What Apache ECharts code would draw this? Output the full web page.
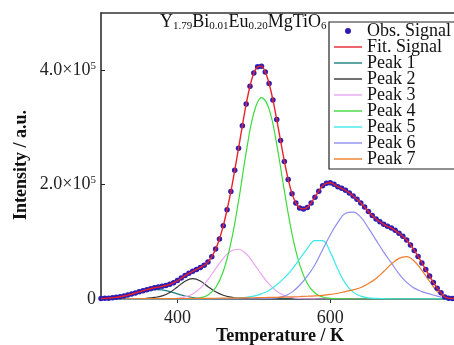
<!DOCTYPE html>
<html>
<head>
<meta charset="utf-8">
<script src="https://cdn.jsdelivr.net/npm/echarts@6/dist/echarts.min.js"></script>
<style>
  html, body { margin: 0; padding: 0; background: #fff; }
  #chart { width: 454px; height: 345px; }
</style>
</head>
<body>
<div id="chart"></div>
<script>
// intensities are in units of 10^5
const obsTemps = [
  300, 305, 310, 315, 320, 325, 330, 335, 340, 345, 350, 355, 360, 365, 370, 375,
  380, 385, 390, 395, 400, 405, 410, 415, 420, 425, 430, 435, 440, 445, 450, 455,
  460, 465, 470, 475, 480, 485, 490, 495, 500, 505, 510, 515, 520, 525, 530, 535,
  540, 545, 550, 555, 560, 565, 570, 575, 580, 585, 590, 595, 600, 605, 610, 615,
  620, 625, 630, 635, 640, 645, 650, 655, 660, 665, 670, 675, 680, 685, 690, 695,
  700, 705, 710, 715, 720, 725, 730, 735, 740, 745, 750, 755, 760, 765
];
const obsSignal = [
  0.008, 0.011, 0.015, 0.021, 0.030, 0.040, 0.053, 0.068, 0.086, 0.105, 0.125, 0.144, 0.163, 0.180, 0.196, 0.208,
  0.221, 0.236, 0.256, 0.285, 0.322, 0.365, 0.409, 0.449, 0.485, 0.516, 0.551, 0.590, 0.645, 0.740, 0.872, 1.050,
  1.279, 1.560, 1.880, 2.250, 2.634, 3.030, 3.408, 3.720, 3.949, 4.060, 4.071, 3.970, 3.768, 3.480, 3.136, 2.770,
  2.405, 2.090, 1.842, 1.680, 1.591, 1.575, 1.601, 1.680, 1.780, 1.885, 1.980, 2.025, 2.032, 2.005, 1.964, 1.935,
  1.901, 1.855, 1.800, 1.745, 1.680, 1.610, 1.530, 1.460, 1.400, 1.350, 1.305, 1.270, 1.240, 1.200, 1.150, 1.095,
  1.030, 0.945, 0.850, 0.745, 0.630, 0.515, 0.400, 0.290, 0.190, 0.110, 0.035, 0.015, 0.010, 0.008
];
// the fitted curve runs through the observed points
const fitSignal = obsSignal;

const peakTemps = [
  300, 310, 320, 330, 340, 350, 360, 370, 380, 390, 400, 410, 420, 430, 440, 450,
  460, 470, 480, 490, 500, 510, 520, 530, 540, 550, 560, 570, 580, 590, 600, 610,
  620, 630, 640, 650, 660, 670, 680, 690, 700, 710, 720, 730, 740, 750, 760
];
const peak1 = [
  0.005, 0.012, 0.026, 0.047, 0.078, 0.113, 0.145, 0.163, 0.158, 0.130, 0.090, 0.052, 0.026, 0.012, 0.005, 0.002,
  0.001, 0, 0, 0, 0, 0, 0, 0, 0, 0, 0, 0, 0, 0, 0, 0,
  0, 0, 0, 0, 0, 0, 0, 0, 0, 0, 0, 0, 0, 0, 0
];
const peak2 = [
  0, 0, 0.001, 0.002, 0.004, 0.007, 0.013, 0.027, 0.055, 0.115, 0.210, 0.310, 0.355, 0.315, 0.215, 0.125,
  0.065, 0.032, 0.016, 0.008, 0.004, 0.002, 0.001, 0, 0, 0, 0, 0, 0, 0, 0, 0,
  0, 0, 0, 0, 0, 0, 0, 0, 0, 0, 0, 0, 0, 0, 0
];
const peak3 = [
  0, 0, 0, 0, 0, 0, 0, 0, 0.001, 0.004, 0.013, 0.036, 0.088, 0.190, 0.340, 0.530,
  0.710, 0.840, 0.870, 0.790, 0.620, 0.430, 0.260, 0.136, 0.062, 0.025, 0.009, 0.003, 0.001, 0, 0, 0,
  0, 0, 0, 0, 0, 0, 0, 0, 0, 0, 0, 0, 0, 0, 0
];
const peak4 = [
  0, 0, 0, 0, 0, 0, 0, 0, 0, 0, 0.001, 0.002, 0.006, 0.021, 0.070, 0.197,
  0.480, 0.980, 1.710, 2.560, 3.250, 3.520, 3.320, 2.700, 1.890, 1.140, 0.600, 0.270, 0.104, 0.035, 0.012, 0.004,
  0.001, 0, 0, 0, 0, 0, 0, 0, 0, 0, 0, 0, 0, 0, 0
];
const peak5 = [
  0, 0, 0, 0, 0, 0, 0, 0, 0, 0, 0, 0, 0, 0.002, 0.003, 0.005,
  0.008, 0.012, 0.020, 0.030, 0.050, 0.090, 0.150, 0.250, 0.370, 0.520, 0.700, 0.880, 1.020, 1.020, 0.820, 0.520,
  0.270, 0.120, 0.050, 0.020, 0.010, 0.005, 0, 0, 0, 0, 0, 0, 0, 0, 0
];
const peak6 = [
  0, 0, 0, 0, 0, 0, 0, 0, 0, 0, 0, 0, 0, 0, 0, 0,
  0, 0, 0, 0, 0.003, 0.005, 0.010, 0.020, 0.050, 0.120, 0.240, 0.400, 0.600, 0.860, 1.120, 1.340,
  1.500, 1.520, 1.430, 1.240, 1.030, 0.820, 0.630, 0.440, 0.290, 0.190, 0.130, 0.090, 0.050, 0.025, 0.010
];
const peak7 = [
  0.003, 0.003, 0.003, 0.004, 0.004, 0.005, 0.005, 0.006, 0.007, 0.007, 0.008, 0.009, 0.010, 0.011, 0.012, 0.013,
  0.015, 0.016, 0.018, 0.020, 0.022, 0.024, 0.027, 0.030, 0.033, 0.037, 0.042, 0.048, 0.055, 0.065, 0.080, 0.100,
  0.130, 0.160, 0.200, 0.270, 0.360, 0.480, 0.610, 0.710, 0.740, 0.660, 0.500, 0.310, 0.130, 0.030, 0.005
];

const peakNames = ['Peak 1', 'Peak 2', 'Peak 3', 'Peak 4', 'Peak 5', 'Peak 6', 'Peak 7'];
const peakValues = [peak1, peak2, peak3, peak4, peak5, peak6, peak7];
const peakColors = ['#1a7f7f', '#333333', '#e9a6f2', '#3ddc3d', '#3fe9e9', '#8e8ff0', '#f07b2a'];

const yTicks = [0, 2, 4];
const xTicks = [400, 600];

const serif = '"Liberation Serif", "Times New Roman", serif';
const lineIcon = 'path://M0,0 H28 V1.4 H0 Z';

function pairs(xs, ys) {
  return xs.map((x, i) => [x, ys[i]]);
}

const peakSeries = peakNames.map((name, i) => ({
  name: name,
  type: 'line',
  data: pairs(peakTemps, peakValues[i]),
  smooth: 0.4,
  symbol: 'none',
  lineStyle: { color: peakColors[i], width: 1.2 },
  itemStyle: { color: peakColors[i] },
  z: 2
}));

const chart = echarts.init(document.getElementById('chart'));

chart.setOption({
  animation: false,
  backgroundColor: '#fff',
  grid: { left: 101, right: 0, top: 13, bottom: 46 },
  title: {
    text: 'Y{s|1.79}Bi{s|0.01}Eu{s|0.20}MgTiO{s|6}',
    left: 160,
    top: 12,
    padding: 0,
    textStyle: {
      fontFamily: serif,
      fontSize: 18,
      fontWeight: 'normal',
      color: '#111',
      lineHeight: 20,
      rich: {
        s: { fontFamily: serif, fontSize: 11, color: '#111', verticalAlign: 'bottom', lineHeight: 12 }
      }
    }
  },
  legend: {
    orient: 'vertical',
    left: 329,
    top: 22,
    padding: [0, 5, 1, 5],
    itemGap: -2,
    itemWidth: 28,
    itemHeight: 6,
    borderColor: '#222',
    borderWidth: 1.2,
    backgroundColor: '#fff',
    textStyle: { fontFamily: serif, fontSize: 18, color: '#111' },
    data: [
      { name: 'Obs. Signal', icon: 'circle' },
      { name: 'Fit. Signal', icon: lineIcon }
    ].concat(peakNames.map(n => ({ name: n, icon: lineIcon })))
  },
  xAxis: [
    {
      type: 'value',
      min: 300,
      max: 762,
      axisLine: { lineStyle: { color: '#444', width: 1.6 } },
      axisTick: { show: true, customValues: xTicks, length: 4, inside: false, lineStyle: { color: '#333', width: 1 } },
      axisLabel: { customValues: xTicks, margin: 10, fontFamily: serif, fontSize: 18, color: '#222' },
      splitLine: { show: false }
    },
    {
      type: 'value',
      position: 'top',
      min: 300,
      max: 762,
      axisLine: { show: true, lineStyle: { color: '#333', width: 1.6 } },
      axisTick: { show: false },
      axisLabel: { show: false },
      splitLine: { show: false }
    }
  ],
  yAxis: {
    type: 'value',
    min: 0,
    max: 5,
    axisLine: { show: true, lineStyle: { color: '#222', width: 1.5 } },
    axisTick: { show: true, customValues: yTicks, inside: true, length: 4, lineStyle: { color: '#222', width: 1 } },
    axisLabel: {
      customValues: yTicks,
      margin: 5,
      fontFamily: serif,
      fontSize: 18,
      color: '#222',
      formatter: v => (v === 0 ? '0' : '{m|' + v.toFixed(1) + '×10}{e|5}'),
      rich: {
        m: { fontFamily: serif, fontSize: 18, color: '#222', lineHeight: 20 },
        e: { fontFamily: serif, fontSize: 11, color: '#222', verticalAlign: 'top', lineHeight: 12 }
      }
    },
    splitLine: { show: false }
  },
  graphic: [
    {
      type: 'text',
      x: 21,
      y: 165,
      rotation: Math.PI / 2,
      style: {
        text: 'Intensity / a.u.',
        fontFamily: serif,
        fontSize: 18,
        fontWeight: 'bold',
        fill: '#111',
        align: 'center',
        verticalAlign: 'middle'
      }
    },
    {
      type: 'text',
      x: 280,
      y: 336,
      style: {
        text: 'Temperature / K',
        fontFamily: serif,
        fontSize: 18,
        fontWeight: 'bold',
        fill: '#111',
        align: 'center',
        verticalAlign: 'middle'
      }
    }
  ],
  series: peakSeries.concat([
    {
      name: 'Obs. Signal',
      type: 'scatter',
      data: pairs(obsTemps, obsSignal),
      symbol: 'circle',
      symbolSize: 5.5,
      itemStyle: { color: '#2c1db3', opacity: 1 },
      z: 3
    },
    {
      name: 'Fit. Signal',
      type: 'line',
      data: pairs(obsTemps, fitSignal),
      smooth: 0.3,
      symbol: 'none',
      lineStyle: { color: '#e8232b', width: 1.4 },
      itemStyle: { color: '#e8232b' },
      z: 4
    }
  ])
});
</script>
</body>
</html>
